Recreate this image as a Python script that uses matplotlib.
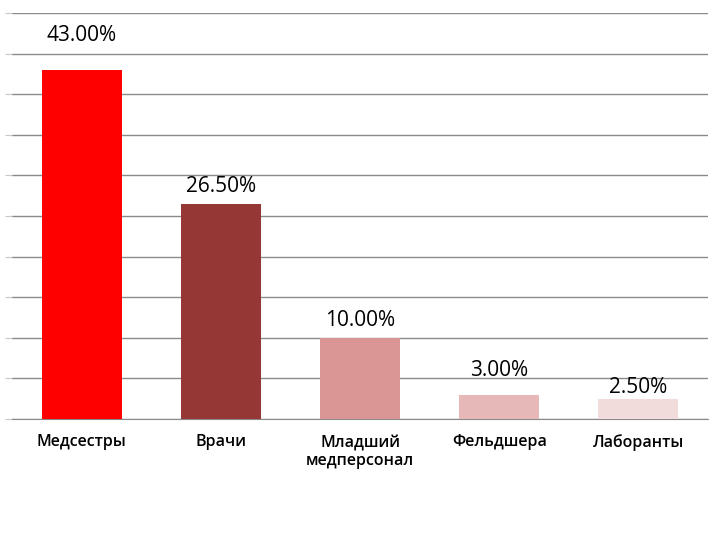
import matplotlib
matplotlib.use('Agg')
import matplotlib.pyplot as plt

plt.rcParams['font.family'] = ['Open Sans', 'DejaVu Sans']

categories = ['Медсестры', 'Врачи', 'Младший\nмедперсонал', 'Фельдшера', 'Лаборанты']
values = [43.0, 26.5, 10.0, 3.0, 2.5]
value_labels = ['43.00%', '26.50%', '10.00%', '3.00%', '2.50%']

colors = ['#FF0000', '#953735', '#D99694', '#E6B9B8', '#F2DCDB']
label_offsets = [34, 17, 17, 24, 11]  # px above bar top, as in the original

fig = plt.figure(figsize=(7.2, 5.4), dpi=100)
ax = fig.add_axes([12 / 720, 1 - 419 / 540, 696 / 720, 406 / 540])

x = range(len(categories))
ax.bar(x, values, width=0.575, color=colors, zorder=3)

ax.set_xlim(-0.5, len(categories) - 0.5)
ax.set_ylim(0, 50)
ax.set_yticks(range(0, 51, 5))
ax.yaxis.grid(True, color='#8a8a8a', linewidth=1, zorder=0)
ax.tick_params(axis='y', length=5, color='#c8c8c8', labelleft=False)
ax.tick_params(axis='x', length=0, pad=11)
ax.set_xticks(list(x))
ax.set_xticklabels(categories, fontsize=11.5, fontweight='semibold', linespacing=1.25)

for s in ['left', 'right', 'top']:
    ax.spines[s].set_visible(False)
ax.spines['bottom'].set_color('#8a8a8a')

for i, (v, lab, off) in enumerate(zip(values, value_labels, label_offsets)):
    ax.annotate(lab, (i, v), xytext=(0, off * 72 / 100), textcoords='offset points',
                ha='center', va='center', fontsize=15, zorder=5)

fig.savefig('out.png', dpi=100)
